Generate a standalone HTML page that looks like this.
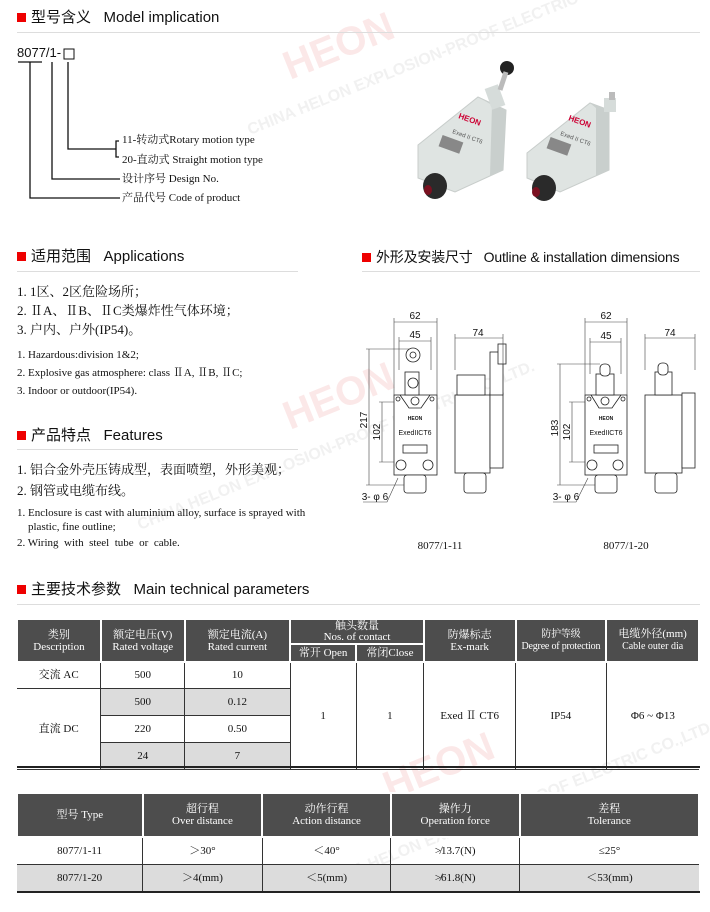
<!DOCTYPE html>
<html><head><meta charset="utf-8">
<style>
*{margin:0;padding:0;box-sizing:border-box}
body{width:710px;height:912px;background:#fff;position:relative;overflow:hidden;font-family:"Liberation Sans","Noto Sans CJK SC",sans-serif;color:#111}
.a{position:absolute;white-space:nowrap}
.h{font-size:15px;line-height:18px}
.h i{display:inline-block;width:9px;height:9px;background:#e00;margin-right:5px;vertical-align:0}
.ln{position:absolute;height:1px;background:#ddd}
.s{font-family:"Liberation Serif","Noto Serif CJK SC",serif}
.t{font-size:11px;line-height:14px}
.c{font-size:13px;line-height:16px}
table{position:absolute;border-collapse:collapse;font-family:"Liberation Serif","Noto Serif CJK SC",serif;font-size:11px;text-align:center}
td{border:1px solid #333;padding:0;line-height:12px}
tr td:first-child{border-left:none}
tr td:last-child{border-right:none}
th{background:#4d4d4d;color:#fff;font-weight:normal;border:2px solid #fff;line-height:12px;font-size:11px}
.g{background:#dcdcdc}
</style></head><body>
<svg class="a" style="left:0;top:0" width="710" height="912">
 <g font-family="Liberation Sans,Noto Sans CJK SC,sans-serif" font-size="40" font-weight="bold" fill="#fbe8e8">
  <text transform="translate(290,80) rotate(-22)">HEON</text>
  <text transform="translate(290,430) rotate(-22)">HEON</text>
  <text transform="translate(390,800) rotate(-22)">HEON</text>
 </g>
 <g font-family="Liberation Sans,sans-serif" font-size="16" font-weight="bold" fill="#f1f1f1">
  <text transform="translate(250,135) rotate(-22)">CHINA HELON EXPLOSION-PROOF ELECTRIC CO.,LTD.</text>
  <text transform="translate(140,530) rotate(-22)">CHINA HELON EXPLOSION-PROOF ELECTRIC CO.,LTD.</text>
  <text transform="translate(320,890) rotate(-22)">CHINA HELON EXPLOSION-PROOF ELECTRIC CO.,LTD.</text>
 </g>
 <g stroke="#111" stroke-width="1.3" fill="none">
  <path d="M18 62H42"/>
  <path d="M30 62V198H120"/>
  <path d="M52 62V179H120"/>
  <path d="M68 62V149H116"/>
  <path d="M119 141H116V157H119"/>
 </g>
 <rect x="64" y="49" width="10" height="10" fill="none" stroke="#111" stroke-width="1"/>
 <g>
  <polygon points="418,145 478,97 506,110 503,170 455,192 418,178" fill="#dfe4e2" stroke="#c8cdcb"/>
  <polygon points="478,97 506,110 503,170 490,176 492,105" fill="#c9cfcd"/>
  <rect x="488" y="86" width="14" height="22" fill="#d6dcda" transform="rotate(-20 495 97)"/>
  <circle cx="507" cy="68" r="7" fill="#222"/>
  <line x1="500" y1="90" x2="506" y2="72" stroke="#bbb" stroke-width="5"/>
  <text x="458" y="118" font-size="8" font-weight="bold" fill="#c03" transform="rotate(20 458 118)">HEON</text>
  <text x="452" y="133" font-size="6" fill="#555" transform="rotate(20 452 133)">Exed II CT6</text>
  <rect x="440" y="138" width="22" height="12" fill="#888" transform="rotate(20 450 144)"/>
  <ellipse cx="435" cy="186" rx="12" ry="13" fill="#2a2a2a"/>
  <ellipse cx="428" cy="190" rx="4" ry="5" fill="#7a1020"/>
  <polygon points="527,153 590,103 609,110 609,170 560,192 527,178" fill="#dfe4e2" stroke="#c8cdcb"/>
  <polygon points="590,103 609,110 609,170 596,176 596,108" fill="#c9cfcd"/>
  <rect x="604" y="98" width="12" height="14" fill="#d6dcda"/>
  <rect x="609" y="92" width="6" height="8" fill="#bbb"/>
  <text x="568" y="120" font-size="8" font-weight="bold" fill="#c03" transform="rotate(20 568 120)">HEON</text>
  <text x="560" y="135" font-size="6" fill="#555" transform="rotate(20 560 135)">Exed II CT6</text>
  <rect x="548" y="140" width="22" height="12" fill="#888" transform="rotate(20 558 146)"/>
  <ellipse cx="544" cy="188" rx="12" ry="13" fill="#2a2a2a"/>
  <ellipse cx="536" cy="192" rx="4" ry="5" fill="#7a1020"/>
 </g>
 <g stroke="#222" stroke-width=".8" fill="#fff" font-family="Liberation Sans,sans-serif">
  <rect x="394" y="395" width="43" height="80"/>
  <path d="M400 395L409 408H421L430 395" fill="none"/>
  <circle cx="415" cy="401" r="4"/><circle cx="398" cy="399" r="2"/><circle cx="432" cy="399" r="2"/>
  <rect x="403" y="445" width="24" height="8"/>
  <circle cx="401" cy="465" r="5"/><circle cx="428" cy="465" r="5"/>
  <rect x="404" y="475" width="22" height="18" rx="3"/>
  <rect x="405" y="372" width="14" height="23"/>
  <circle cx="413" cy="383" r="5"/>
  <circle cx="413" cy="355" r="7"/><circle cx="413" cy="355" r="3"/>
  <rect x="455" y="395" width="35" height="78"/>
  <rect x="490" y="393" width="13" height="75"/>
  <rect x="457" y="375" width="28" height="20"/>
  <rect x="490" y="352" width="13" height="43"/>
  <rect x="498" y="344" width="8" height="20"/>
  <rect x="464" y="473" width="22" height="20" rx="3"/>
  <rect x="585" y="395" width="42" height="80"/>
  <path d="M591 395L599 408H612L621 395" fill="none"/>
  <circle cx="605" cy="401" r="4"/><circle cx="589" cy="399" r="2"/><circle cx="623" cy="399" r="2"/>
  <rect x="594" y="445" width="24" height="8"/>
  <circle cx="592" cy="465" r="5"/><circle cx="618" cy="465" r="5"/>
  <rect x="595" y="475" width="22" height="18" rx="3"/>
  <rect x="596" y="374" width="18" height="21"/>
  <rect x="600" y="364" width="10" height="12" rx="4"/>
  <rect x="645" y="395" width="37" height="78"/>
  <rect x="682" y="393" width="13" height="75"/>
  <rect x="655" y="372" width="17" height="23"/>
  <rect x="658" y="363" width="10" height="12" rx="4"/>
  <rect x="655" y="473" width="22" height="20" rx="3"/>
 </g>
 <g stroke="#444" stroke-width=".6" fill="none">
  <path d="M394 322H437M394 318V395M437 318V395"/>
  <path d="M399 341H431M399 337V370M431 337V370"/>
  <path d="M455 338H503M455 334V370M503 334V370"/>
  <path d="M369 349V485M366 349H410M366 485H404"/>
  <path d="M382 402V462M379 402H394M379 462H394"/>
  <path d="M585 322H627M585 318V395M627 318V395"/>
  <path d="M590 342H621M590 338V374M621 338V374"/>
  <path d="M645 338H695M645 334V370M695 334V370"/>
  <path d="M560 364V485M557 364H600M557 485H595"/>
  <path d="M572 402V462M569 402H585M569 462H585"/>
  <path d="M363 502H387L398 478M553 502H576L588 478"/>
 </g>
 <g font-family="Liberation Sans,sans-serif" font-size="10" fill="#111" text-anchor="middle">
  <text x="415" y="319">62</text><text x="415" y="338">45</text><text x="478" y="336">74</text>
  <text x="606" y="319">62</text><text x="606" y="339">45</text><text x="670" y="336">74</text>
  <text transform="translate(367,420) rotate(-90)">217</text>
  <text transform="translate(380,432) rotate(-90)">102</text>
  <text transform="translate(558,428) rotate(-90)">183</text>
  <text transform="translate(570,432) rotate(-90)">102</text>
  <text x="375" y="500">3- φ 6</text><text x="566" y="500">3- φ 6</text>
  <text x="415" y="420" font-size="5" font-weight="bold">HEON</text>
  <text x="415" y="435" font-size="7">ExedIICT6</text>
  <text x="606" y="420" font-size="5" font-weight="bold">HEON</text>
  <text x="606" y="435" font-size="7">ExedIICT6</text>
 </g>
 <g font-family="Liberation Serif,serif" font-size="11" fill="#111" text-anchor="middle">
  <text x="440" y="549">8077/1-11</text><text x="626" y="549">8077/1-20</text>
 </g>
</svg>

<div class="a h" style="left:17px;top:9px"><i></i>型号含义&nbsp;&nbsp; Model implication</div>
<div class="ln" style="left:17px;top:32px;width:683px"></div>
<div class="a" style="left:17px;top:45px;font-size:13px;line-height:16px">8077/1-</div>
<div class="a s t" style="left:122px;top:133px">11-转动式Rotary motion type</div>
<div class="a s t" style="left:122px;top:153px">20-直动式 Straight motion type</div>
<div class="a s t" style="left:122px;top:172px">设计序号 Design No.</div>
<div class="a s t" style="left:122px;top:191px">产品代号 Code of product</div>

<div class="a h" style="left:17px;top:248px"><i></i>适用范围&nbsp;&nbsp; Applications</div>
<div class="ln" style="left:17px;top:271px;width:281px"></div>
<div class="a s c" style="left:17px;top:284px">1. 1区、2区危险场所；</div>
<div class="a s c" style="left:17px;top:303px">2. ⅡA、ⅡB、ⅡC类爆炸性气体环境；</div>
<div class="a s c" style="left:17px;top:322px">3. 户内、户外(IP54)。</div>
<div class="a s t" style="left:17px;top:348px">1. Hazardous:division 1&amp;2;</div>
<div class="a s t" style="left:17px;top:366px">2. Explosive gas atmosphere: class ⅡA, ⅡB, ⅡC;</div>
<div class="a s t" style="left:17px;top:384px">3. Indoor or outdoor(IP54).</div>

<div class="a h" style="left:17px;top:427px"><i></i>产品特点&nbsp;&nbsp; Features</div>
<div class="ln" style="left:17px;top:449px;width:281px"></div>
<div class="a s c" style="left:17px;top:462px">1. 铝合金外壳压铸成型，表面喷塑，外形美观；</div>
<div class="a s c" style="left:17px;top:483px">2. 钢管或电缆布线。</div>
<div class="a s t" style="left:17px;top:506px">1. Enclosure is cast with aluminium alloy, surface is sprayed with</div>
<div class="a s t" style="left:28px;top:520px">plastic, fine outline;</div>
<div class="a s t" style="left:17px;top:536px">2. Wiring&nbsp; with&nbsp; steel&nbsp; tube&nbsp; or&nbsp; cable.</div>

<div class="a h" style="left:362px;top:248px;font-size:14px;letter-spacing:-0.2px"><i></i>外形及安装尺寸&nbsp;&nbsp; Outline &amp; installation dimensions</div>
<div class="ln" style="left:362px;top:271px;width:338px"></div>

<div class="a h" style="left:17px;top:581px"><i></i>主要技术参数&nbsp;&nbsp; Main technical parameters</div>
<div class="ln" style="left:17px;top:604px;width:683px"></div>

<table style="left:16px;top:618px;width:684px">
<colgroup><col style="width:84px"><col style="width:84px"><col style="width:106px"><col style="width:66px"><col style="width:68px"><col style="width:92px"><col style="width:91px"><col style="width:93px"></colgroup>
<tr style="height:25px"><th rowspan="2">类别<br>Description</th><th rowspan="2">额定电压(V)<br>Rated voltage</th><th rowspan="2">额定电流(A)<br>Rated current</th><th colspan="2" style="line-height:11px">触头数量<br>Nos. of contact</th><th rowspan="2">防爆标志<br>Ex-mark</th><th rowspan="2" style="font-size:10px;letter-spacing:-0.2px">防护等级<br>Degree of protection</th><th rowspan="2">电缆外径(mm)<br><span style="font-size:10px">Cable outer dia</span></th></tr>
<tr style="height:18px"><th>常开 Open</th><th>常闭Close</th></tr>
<tr style="height:26px"><td>交流 AC</td><td>500</td><td>10</td><td rowspan="4">1</td><td rowspan="4">1</td><td rowspan="4">Exed Ⅱ CT6</td><td rowspan="4">IP54</td><td rowspan="4">Φ6 ~ Φ13</td></tr>
<tr style="height:27px"><td rowspan="3">直流 DC</td><td class="g">500</td><td class="g">0.12</td></tr>
<tr style="height:27px"><td>220</td><td>0.50</td></tr>
<tr style="height:27px"><td class="g">24</td><td class="g">7</td></tr>
</table>
<div class="ln" style="left:17px;top:766px;width:683px;height:2px;background:#222"></div>

<table style="left:16px;top:792px;width:684px">
<colgroup><col style="width:126px"><col style="width:120px"><col style="width:129px"><col style="width:129px"><col style="width:180px"></colgroup>
<tr style="height:44px"><th>型号 Type</th><th>超行程<br>Over distance</th><th>动作行程<br>Action distance</th><th>操作力<br>Operation force</th><th>差程<br>Tolerance</th></tr>
<tr style="height:27px"><td>8077/1-11</td><td>＞30°</td><td>＜40°</td><td>≯13.7(N)</td><td>≤25°</td></tr>
<tr style="height:28px" class="g"><td>8077/1-20</td><td>＞4(mm)</td><td>＜5(mm)</td><td>≯61.8(N)</td><td>＜53(mm)</td></tr>
</table>
<div class="ln" style="left:17px;top:891px;width:683px;height:2px;background:#222"></div>
</body></html>
